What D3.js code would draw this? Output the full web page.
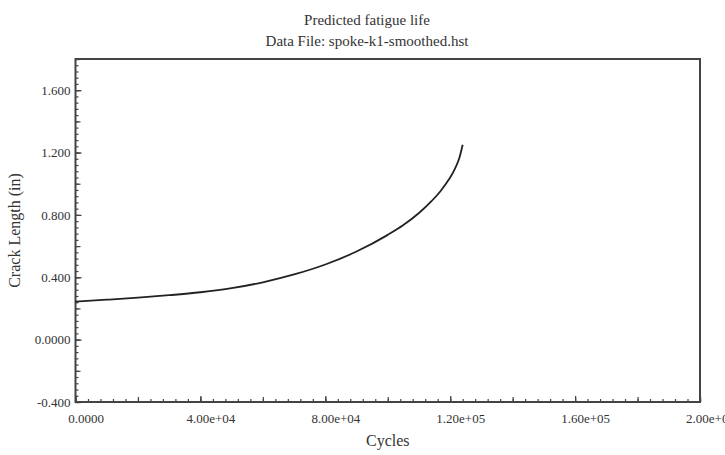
<!DOCTYPE html>
<html>
<head>
<meta charset="utf-8">
<script src="https://cdn.jsdelivr.net/npm/d3@7"></script>
<style>
  body { margin: 0; background: #fff; }
  text { font-family: "Liberation Serif", "DejaVu Serif", serif; fill: #333; }
</style>
</head>
<body>
<div id="figure"></div>
<script>
// data
const cycles = [0, 10000, 20000, 30000, 40000, 50000, 60000, 70000, 80000, 90000,
  100000, 105000, 110000, 114000, 117000, 119500, 121500, 123000, 124000]
const crackLength = [0.244, 0.256, 0.269, 0.285, 0.304, 0.33, 0.368, 0.418, 0.482, 0.565,
  0.672, 0.735, 0.812, 0.888, 0.955, 1.025, 1.095, 1.17, 1.25]

const xTicks = [0, 40000, 80000, 120000, 160000, 200000]
const xTickLabels = ['0.0000', '4.00e+04', '8.00e+04', '1.20e+05', '1.60e+05', '2.00e+05']
const yTicks = [-0.4, 0, 0.4, 0.8, 1.2, 1.6]
const yTickLabels = ['-0.400', '0.0000', '0.400', '0.800', '1.200', '1.600']

const titleLines = ['Predicted fatigue life', 'Data File: spoke-k1-smoothed.hst']

const width = 725
const height = 455
const margin = { TOP: 59, LEFT: 75.5, RIGHT: 25, BOTTOM: 53 }
const innerW = width - margin.LEFT - margin.RIGHT
const innerH = height - margin.TOP - margin.BOTTOM

const svg = d3.select('#figure').append('svg').attr('width', width).attr('height', height)
const g = svg.append('g').attr('transform', `translate(${margin.LEFT},${margin.TOP})`)

const x = d3.scaleLinear().domain([0, 200000]).range([0, innerW])
const y = d3.scaleLinear().domain([-0.4, 1.8]).range([innerH, 0])

// minor ticks (pointing inward)
const xMinor = d3.range(0, 200001, 4000)
const xMid = d3.range(0, 200001, 20000)
const yMinor = d3.range(-0.4, 1.8001, 0.04)
const yMid = d3.range(-0.4, 1.8001, 0.2)

g.append('g').attr('transform', `translate(0,${innerH})`)
  .call(d3.axisBottom(x).tickValues(xMinor).tickSize(-3).tickFormat(''))
g.append('g').attr('transform', `translate(0,${innerH})`)
  .call(d3.axisBottom(x).tickValues(xMid).tickSize(-5).tickFormat(''))
g.append('g')
  .call(d3.axisLeft(y).tickValues(yMinor).tickSize(-3).tickFormat(''))
g.append('g')
  .call(d3.axisLeft(y).tickValues(yMid).tickSize(-5).tickFormat(''))

// major ticks with labels
const xAxis = g.append('g').attr('transform', `translate(0,${innerH})`)
  .call(d3.axisBottom(x).tickValues(xTicks).tickSize(-6).tickPadding(12)
    .tickFormat((d, i) => xTickLabels[i]))
xAxis.selectAll('text').attr('dx', 10).style('font-size', '13px')

const yAxis = g.append('g')
  .call(d3.axisLeft(y).tickValues(yTicks).tickSize(-6).tickPadding(5)
    .tickFormat((d, i) => yTickLabels[i]))
yAxis.selectAll('text').style('font-size', '13px')

g.selectAll('.domain').remove()
g.selectAll('.tick line').attr('stroke', '#444').attr('stroke-width', 1.2)
g.selectAll('.tick text').attr('fill', '#333')

// frame
g.append('rect').attr('width', innerW).attr('height', innerH)
  .attr('fill', 'none').attr('stroke', '#444').attr('stroke-width', 2)

// curve
const line = d3.line()
  .x((d, i) => x(cycles[i]))
  .y(d => y(d))
  .curve(d3.curveMonotoneX)

g.append('path').datum(crackLength).attr('d', line)
  .attr('fill', 'none').attr('stroke', '#222').attr('stroke-width', 1.8)

// titles
svg.selectAll('.title').data(titleLines).enter().append('text')
  .attr('class', 'title')
  .attr('x', 367).attr('y', (d, i) => 25 + i * 21)
  .attr('text-anchor', 'middle')
  .style('font-size', '15px')
  .text(d => d)

svg.append('text').attr('x', margin.LEFT + innerW / 2).attr('y', 446)
  .attr('text-anchor', 'middle').style('font-size', '16px').text('Cycles')

svg.append('text')
  .attr('transform', `translate(20,${margin.TOP + innerH / 2}) rotate(-90)`)
  .attr('text-anchor', 'middle').style('font-size', '16px').text('Crack Length (in)')
</script>
</body>
</html>
